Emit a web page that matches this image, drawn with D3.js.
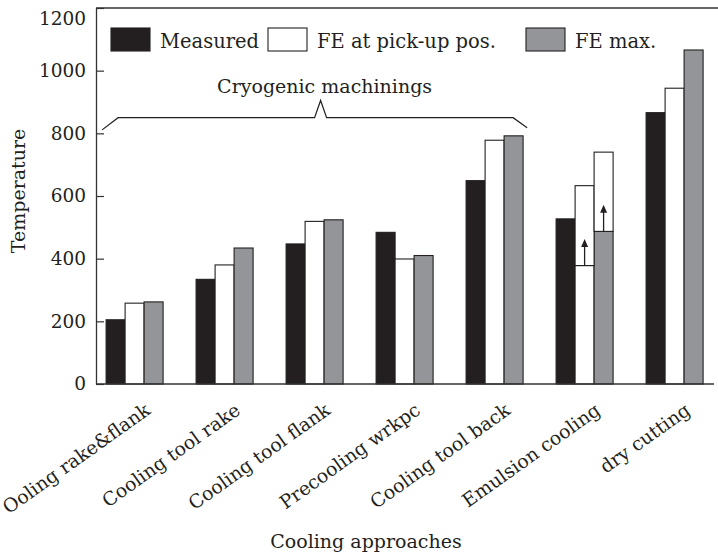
<!DOCTYPE html>
<head>
  <meta charset="UTF-8">
  <style>
    *{ margin: 0px; }
    body{ background-color: white; }
    svg{
      position: absolute;
      font-family: "DejaVu Serif";
      font-size: 19px;
      fill: #231f20;
    }
  </style>
  <script src="https://d3js.org/d3.v7.min.js"></script>
</head>
<body>
  <svg id="chart" width="718" height="557"></svg>
  <script>
    var categories = ["Ooling rake&flank", "Cooling tool rake", "Cooling tool flank",
      "Precooling wrkpc", "Cooling tool back", "Emulsion cooling", "dry cutting"];
    var seriesKeys = ["measured", "pickup", "max"];
    var seriesNames = ["Measured", "FE at pick-up pos.", "FE max."];
    var measured = [205, 334, 447, 484, 649, 527, 866];
    var fePickup = [258, 380, 519, 399, 778, 378, 944];
    var feMax = [262, 434, 524, 410, 792, 487, 1066];
    // emulsion cooling: FE values given as a range (lower bar + open box above)
    var rangeCategory = "Emulsion cooling";
    var rangeSeries = ["pickup", "max"];
    var rangeFrom = [378, 487];
    var rangeTo = [633, 740];
    var cryoCategories = categories.slice(0, 5);
    var yTicks = [0, 200, 400, 600, 800, 1000, 1200];

    var colors = { measured: "#231f20", pickup: "#ffffff", max: "#939598" };
    var ink = "#231f20";

    var svg = d3.select("#chart");

    var y = d3.scaleLinear().domain([0, 1200]).range([384, 8]);
    var x = d3.scaleBand().domain(categories)
      .range([89.6, 719.6]).paddingInner(0.3667).paddingOuter(0.18335);
    var xs = d3.scaleBand().domain(seriesKeys).range([0, x.bandwidth()]);

    var rows = categories.map((c, i) => ({
      cat: c, measured: measured[i], pickup: fePickup[i], max: feMax[i]
    }));

    // bars
    svg.append("g")
      .selectAll("g")
      .data(rows)
      .join("g")
      .attr("transform", d => "translate(" + x(d.cat) + ",0)")
      .selectAll("rect")
      .data(d => seriesKeys.map(k => ({ key: k, value: d[k] })))
      .join("rect")
      .attr("x", d => xs(d.key))
      .attr("y", d => y(d.value))
      .attr("width", xs.bandwidth())
      .attr("height", d => y(0) - y(d.value))
      .attr("fill", d => colors[d.key])
      .attr("stroke", ink)
      .attr("stroke-width", 1.1);

    // range boxes + arrows for emulsion cooling
    var rg = svg.append("g").attr("transform", "translate(" + x(rangeCategory) + ",0)");
    rangeSeries.forEach(function(k, i){
      rg.append("rect")
        .attr("x", xs(k))
        .attr("y", y(rangeTo[i]))
        .attr("width", xs.bandwidth())
        .attr("height", y(rangeFrom[i]) - y(rangeTo[i]))
        .attr("fill", "white")
        .attr("stroke", ink)
        .attr("stroke-width", 1.1);
      var cx = xs(k) + xs.bandwidth() / 2,
        y0 = y(rangeFrom[i]),
        y1 = y(rangeFrom[i] + 85);
      rg.append("line")
        .attr("x1", cx).attr("x2", cx)
        .attr("y1", y0).attr("y2", y1 + 6)
        .attr("stroke", ink).attr("stroke-width", 1.3);
      rg.append("path")
        .attr("d", "M" + (cx - 3.5) + "," + (y1 + 8) + "L" + cx + "," + y1 + "L" + (cx + 3.5) + "," + (y1 + 8) + "Z")
        .attr("fill", ink);
    });

    // axes
    var yAxis = svg.append("g")
      .attr("transform", "translate(96,0)")
      .call(d3.axisLeft(y).tickValues(yTicks).tickFormat(d3.format("d"))
        .tickSizeInner(-8).tickSizeOuter(0).tickPadding(10));
    yAxis.select(".domain").attr("stroke", "#333").attr("stroke-width", 1.3);
    yAxis.selectAll(".tick line").attr("stroke", "#333").attr("stroke-width", 1.2);
    yAxis.selectAll("text")
      .attr("font-family", "DejaVu Serif").attr("font-size", "18.5px").attr("fill", ink)
      .attr("dy", d => d === 1200 ? "0.9em" : "0.32em");

    svg.append("line")
      .attr("x1", 96).attr("x2", 718).attr("y1", y(1200)).attr("y2", y(1200))
      .attr("stroke", "#333").attr("stroke-width", 1.3);
    svg.append("line")
      .attr("x1", 96).attr("x2", 714).attr("y1", y(0)).attr("y2", y(0))
      .attr("stroke", "#333").attr("stroke-width", 1.3);

    // category labels
    svg.append("g")
      .selectAll("text")
      .data(categories)
      .join("text")
      .attr("text-anchor", "end")
      .attr("font-size", "18.8px")
      .attr("transform", d => "translate(" + (x(d) + x.bandwidth() / 2 + 17) + ",413) rotate(-35.4)")
      .text(d => d);

    svg.append("text")
      .attr("x", 366).attr("y", 548)
      .attr("text-anchor", "middle")
      .text("Cooling approaches");

    svg.append("text")
      .attr("transform", "translate(25,191) rotate(-90)")
      .attr("text-anchor", "middle")
      .text("Temperature");

    // legend
    var legendX = [111, 268, 526];
    var legend = svg.append("g");
    seriesKeys.forEach(function(k, i){
      legend.append("rect")
        .attr("x", legendX[i]).attr("y", 28)
        .attr("width", 39).attr("height", 23)
        .attr("fill", colors[k])
        .attr("stroke", ink).attr("stroke-width", 1.1);
      legend.append("text")
        .attr("x", legendX[i] + 49).attr("y", 48)
        .attr("font-size", "19.5px")
        .text(seriesNames[i]);
    });

    // brace over cryogenic group
    var bl = x(cryoCategories[0]) - 4,
      br = x(cryoCategories[cryoCategories.length - 1]) + x.bandwidth() + 4,
      bm = (bl + br) / 2 + 6;
    svg.append("path")
      .attr("d", "M" + bl + "," + y(811) + "L" + (bl + 16) + "," + y(850) +
        "L" + (bm - 6) + "," + y(850) + "L" + bm + "," + y(905) + "L" + (bm + 6) + "," + y(850) +
        "L" + (br - 14) + "," + y(850) + "L" + br + "," + y(818))
      .attr("fill", "none")
      .attr("stroke", ink)
      .attr("stroke-width", 1.2);
    svg.append("text")
      .attr("x", bm + 4).attr("y", y(928))
      .attr("text-anchor", "middle")
      .text("Cryogenic machinings");
  </script>
</body>
